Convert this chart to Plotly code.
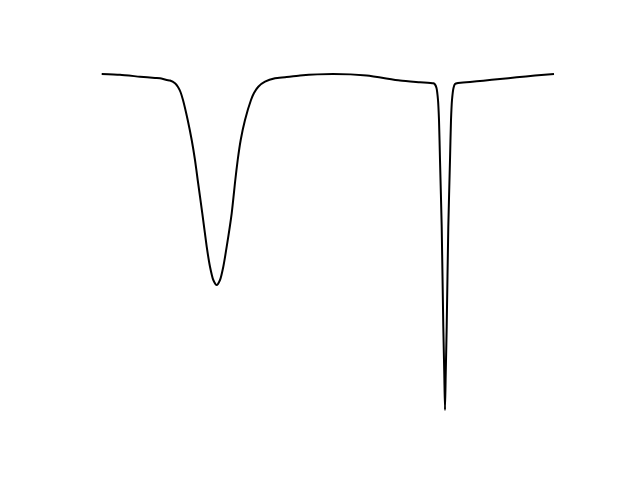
import plotly.graph_objects as go

# Curve points (pixel-space units: x rightwards, y downwards)
x_vals = [101.7, 120, 140, 155, 160, 166.7, 170, 175, 178, 180.5, 183, 187.7, 191.7, 195, 197.7, 202.3, 206.7, 210,
          213.3, 216.7, 220, 223.3, 226.7, 231.7, 235.3, 237.7, 240.7, 245, 251, 254, 258.3, 265, 275, 285, 300,
          333, 366.7, 400, 420, 433.3, 435, 436.5, 438, 439, 440, 441.7, 443.3, 444.3, 445, 445.7, 446.7, 448.3,
          450, 451, 452, 453.5, 455, 458, 470, 483.3, 500, 516.7, 535, 554]
y_vals = [74, 74.8, 76.7, 78, 78.3, 80, 80.5, 83.3, 87, 92, 100, 120, 140, 160, 180, 213.3, 246.7, 266.7,
          280, 285, 280, 266.7, 246.7, 213.3, 180, 160, 140, 120, 100, 93, 86.7, 81.7, 78.3, 77.3, 75.5,
          74, 75.5, 80.5, 82.2, 83.3, 84.5, 88, 100, 120, 160, 226.7, 326.7, 375, 410, 375, 326.7, 226.7,
          160, 120, 100, 88, 84, 83, 82, 80.7, 79, 77.3, 75.5, 74]

fig = go.Figure(go.Scatter(x=x_vals, y=y_vals, mode="lines",
                           line=dict(color="black", width=2, shape="spline", smoothing=0.6),
                           hoverinfo="skip"))
fig.update_layout(width=640, height=480, margin=dict(l=0, r=0, t=0, b=0),
                  paper_bgcolor="white", plot_bgcolor="white", showlegend=False)
# the page body adds an 8px offset, so shift the ranges to compensate
fig.update_xaxes(range=[8, 648], visible=False)
fig.update_yaxes(range=[488, 8], visible=False)
fig.write_html("out.html")
